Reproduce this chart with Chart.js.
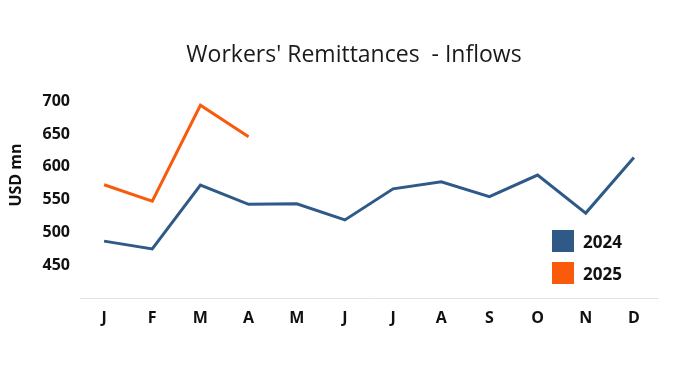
<!DOCTYPE html>
<html>
<head>
<meta charset="utf-8">
<script src="https://cdn.jsdelivr.net/npm/chart.js@4"></script>
<style>
  html, body { margin: 0; padding: 0; background: #fff; }
  #wrap { position: relative; width: 679px; height: 371px; }
  #legend { position: absolute; left: 552px; top: 225px; font: bold 17px "Open Sans", sans-serif; color: #111; }
  #legend div { display: flex; align-items: center; height: 32px; }
  #legend span.box { display: inline-block; width: 22px; height: 22px; margin-right: 9px; }
</style>
</head>
<body>
<div id="wrap">
  <canvas id="myChart" width="679" height="371"></canvas>
  <div id="legend"></div>
</div>
<script>
  // data
  const months = ['J', 'F', 'M', 'A', 'M', 'J', 'J', 'A', 'S', 'O', 'N', 'D'];
  const values2024 = [487.5, 475.7, 572.4, 543.3, 544.1, 519.6, 566.8, 577.4, 554.9, 587.7, 530.0, 614.3];
  const values2025 = [573.0, 548.2, 693.6, 645.8];
  const seriesNames = ['2024', '2025'];
  const seriesColors = ['#2f5a87', '#fa5a0c'];
  const chartTitle = "Workers' Remittances  - Inflows";
  const yTitle = 'USD mn';

  // title and y-axis title drawn at fixed spots, as in the original
  const titlesPlugin = {
    id: 'titles',
    afterDraw: function (chart) {
      const c = chart.ctx;
      c.save();
      c.fillStyle = '#1a1a1a';
      c.textAlign = 'center';
      c.textBaseline = 'middle';
      c.font = '23px "Open Sans", sans-serif';
      c.fillText(chartTitle, 354, 55);
      c.translate(16, 175);
      c.rotate(-Math.PI / 2);
      c.font = 'bold 16px "Open Sans", sans-serif';
      c.fillStyle = '#111';
      c.fillText(yTitle, 0, 0);
      c.restore();
    }
  };

  const ctx = document.getElementById('myChart').getContext('2d');
  const myChart = new Chart(ctx, {
    type: 'line',
    data: {
      labels: months,
      datasets: [
        { label: seriesNames[0], data: values2024, borderColor: seriesColors[0], backgroundColor: seriesColors[0], fill: false },
        { label: seriesNames[1], data: values2025, borderColor: seriesColors[1], backgroundColor: seriesColors[1], fill: false }
      ]
    },
    plugins: [titlesPlugin],
    options: {
      responsive: false,
      animation: false,
      elements: {
        line: { borderWidth: 3, tension: 0 },
        point: { radius: 0 }
      },
      layout: { padding: { left: 0, right: 21, top: 101, bottom: 33 } },
      plugins: {
        legend: { display: false },
        tooltip: { enabled: false },
        title: { display: false }
      },
      scales: {
        x: {
          offset: true,
          grid: { display: false, drawTicks: false },
          border: { display: true, color: '#e3e3e3', width: 1 },
          ticks: { color: '#111', padding: 10, font: { family: '"Open Sans", sans-serif', size: 16, weight: 'bold' } }
        },
        y: {
          min: 400,
          max: 700,
          afterFit: function (scale) { scale.width = 80; },
          grid: { display: false, drawTicks: false },
          border: { display: false },
          ticks: {
            stepSize: 50,
            color: '#111',
            padding: 10,
            font: { family: '"Open Sans", sans-serif', size: 16, weight: 'bold' },
            callback: function (v) { return v === 400 ? '' : v; }
          }
        }
      }
    }
  });

  // legend in the lower right of the plot
  const legendEl = document.getElementById('legend');
  myChart.data.datasets.forEach(function (ds) {
    const row = document.createElement('div');
    row.innerHTML = '<span class="box" style="background:' + ds.borderColor + '"></span>' + ds.label;
    legendEl.appendChild(row);
  });
</script>
</body>
</html>
